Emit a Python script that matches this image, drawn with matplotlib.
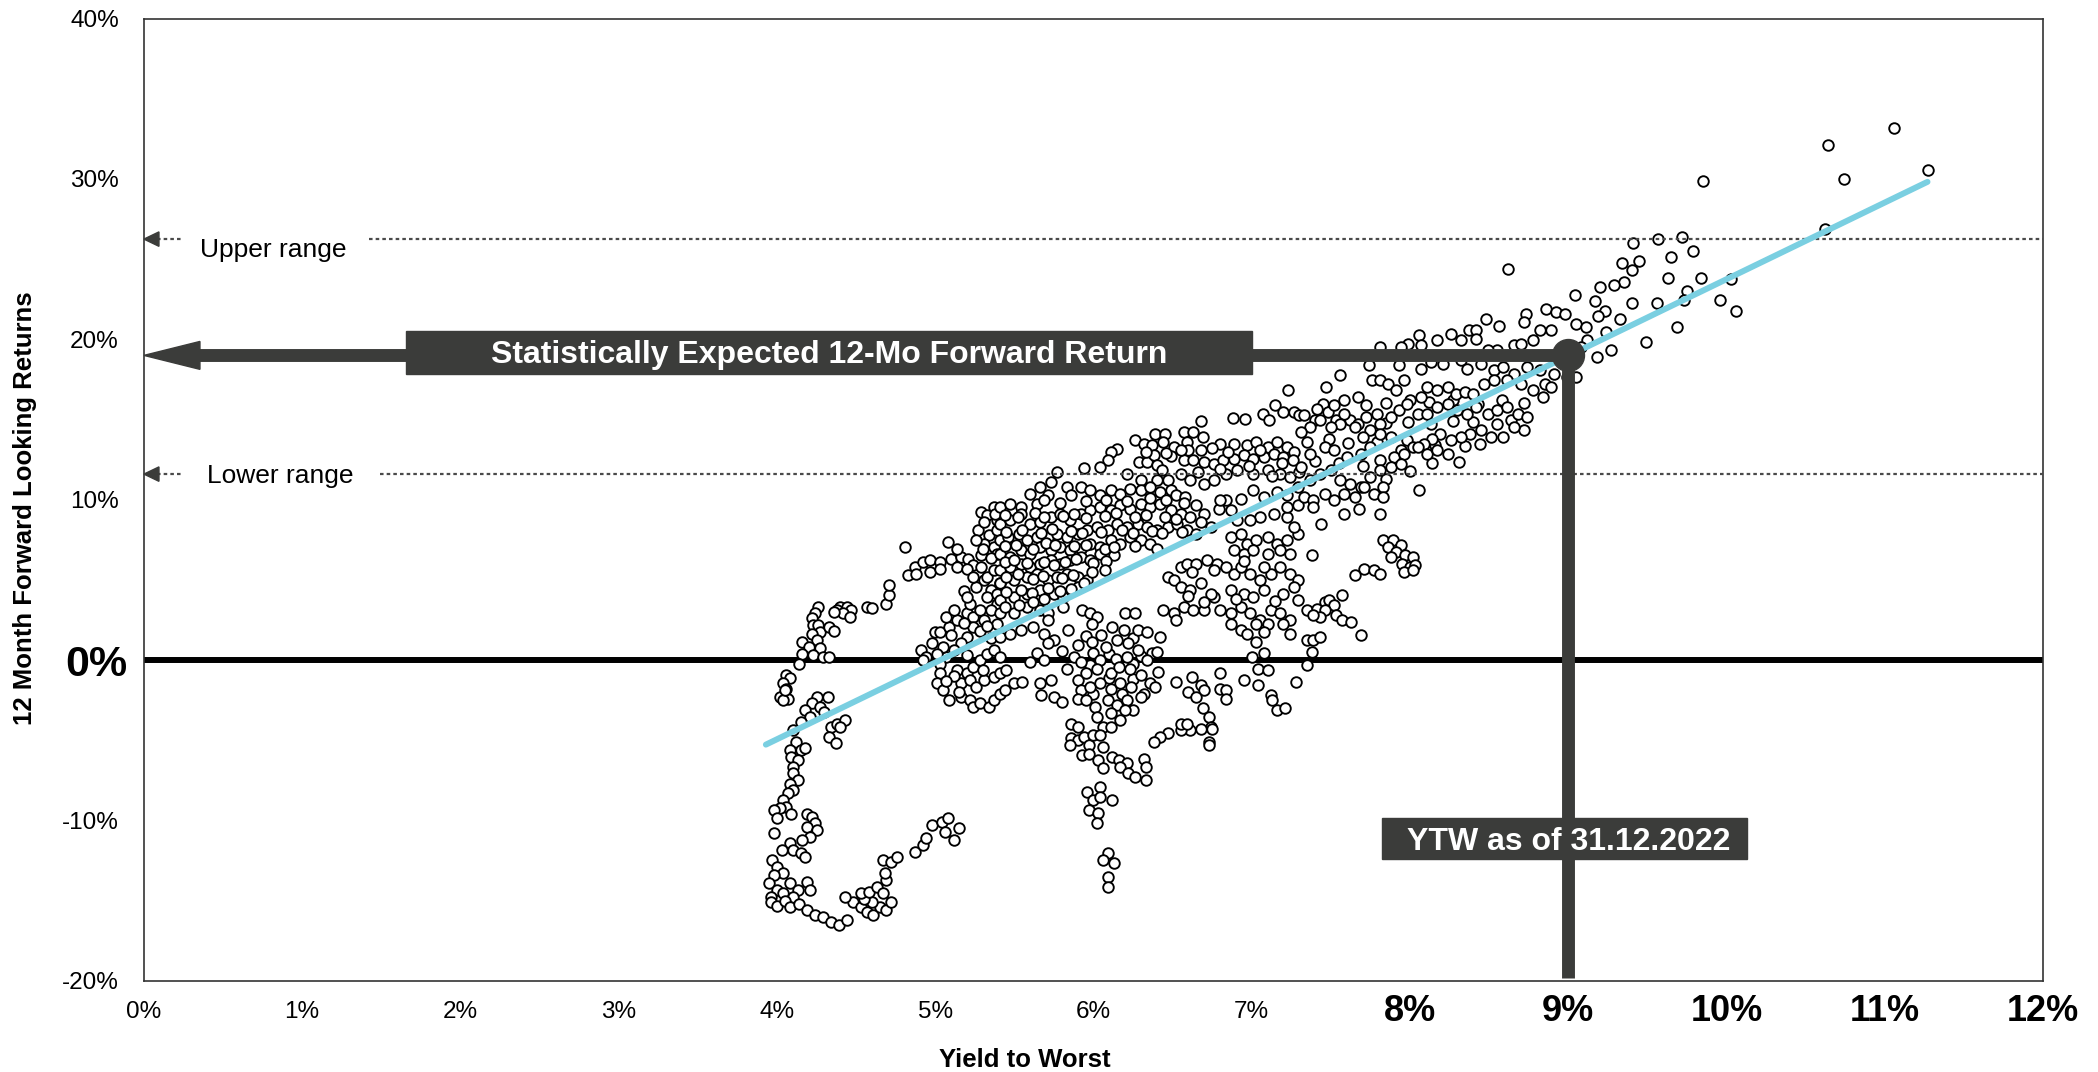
import matplotlib
matplotlib.use("Agg")
import matplotlib.pyplot as plt
from matplotlib.patches import Polygon, Rectangle

plt.rcParams['font.family'] = ['Liberation Sans', 'DejaVu Sans']

# ---------------------------------------------------------------
# Observations: (yield to worst %, 12-month forward return %)
# ---------------------------------------------------------------
hook_top = [
    (4.26, 3.32), (4.24, 2.91), (4.22, 2.60), (4.23, 2.18), (4.26, 2.18), (4.27, 1.76), (4.33, 2.08),
    (4.36, 1.83), (4.22, 1.66), (4.25, 1.25), (4.16, 1.14), (4.20, 0.83), (4.27, 0.73), (4.16, 0.41),
    (4.23, 0.31), (4.29, 0.21), (4.33, 0.21), (4.14, -0.21), (4.40, 3.32), (4.44, 3.32), (4.38, 3.11),
    (4.47, 3.11), (4.42, 2.91), (4.46, 2.70), (4.36, 3.01), (4.57, 3.32), (4.60, 3.28), (4.69, 3.53),
    (4.06, -0.94), (4.08, -1.14), (4.04, -1.45), (4.06, -1.77), (4.02, -2.29), (4.07, -2.39), (4.04, -2.49),
    (4.05, -1.87), (4.25, -2.29), (4.32, -2.29), (4.22, -2.70), (4.27, -2.91), (4.18, -3.12), (4.21, -3.53),
    (4.15, -3.84), (4.30, -3.22), (4.34, -4.16), (4.38, -3.95), (4.43, -3.74), (4.40, -4.16), (4.33, -4.78),
    (4.37, -5.19), (4.10, -4.36),
]

hook_strand = [
    (4.12, -5.09), (4.08, -5.61), (4.15, -5.61), (4.18, -5.50), (4.09, -6.02), (4.13, -6.23), (4.10, -6.65),
    (4.10, -7.06), (4.13, -7.48), (4.08, -7.69), (4.10, -8.10), (4.07, -8.31), (4.04, -8.72), (4.06, -9.14),
    (4.02, -9.24), (3.98, -9.35), (4.00, -9.87), (4.09, -9.56), (4.19, -9.56), (4.22, -9.76), (4.24, -10.18),
    (4.19, -10.39), (4.25, -10.59), (4.21, -11.01), (4.16, -11.22), (4.08, -11.42), (4.10, -11.84),
    (4.15, -12.05), (4.18, -12.26), (4.03, -11.84), (3.98, -10.80), (3.97, -12.46), (4.00, -12.88),
    (4.04, -13.29), (3.98, -13.40), (3.95, -13.92), (4.00, -14.33), (4.08, -13.92), (4.13, -14.33),
    (4.19, -13.81), (4.21, -14.33), (4.04, -14.54), (3.96, -14.75), (4.10, -14.75),
    (3.96, -15.1), (4.00, -15.3), (4.05, -15.0), (4.08, -15.4), (4.14, -15.2), (4.19, -15.6), (4.24, -15.9),
    (4.29, -16.0), (4.34, -16.3), (4.39, -16.5), (4.44, -16.2), (4.48, -15.1), (4.53, -15.4), (4.57, -15.7),
    (4.61, -15.9), (4.65, -15.4), (4.69, -15.6), (4.72, -15.1), (4.60, -15.1), (4.55, -14.9),
    (4.43, -14.75), (4.53, -14.54), (4.58, -14.44), (4.63, -14.12), (4.67, -14.54), (4.69, -13.71),
    (4.68, -13.29), (4.67, -12.46), (4.72, -12.57), (4.76, -12.26), (4.87, -11.94), (4.92, -11.53),
    (4.94, -11.11), (4.98, -10.28), (5.04, -10.07), (5.08, -9.87), (5.06, -10.70), (5.12, -11.22),
    (5.15, -10.49),
]

core_left = [
    (4.91, 0.62), (4.94, 0.21), (4.92, 0.00), (4.98, 1.04), (5.00, 1.76), (5.03, 1.76), (5.09, 2.08),
    (5.14, 2.49), (5.07, 2.70), (5.12, 3.11), (5.20, 2.91), (5.24, 2.70), (5.28, 3.11), (5.22, 3.53),
    (5.39, 3.53), (5.35, 3.11), (5.31, 2.49), (5.24, 2.08), (5.20, 1.45), (5.16, 1.04), (5.12, 0.62),
    (5.07, 0.21), (5.03, -0.21), (5.05, 0.83), (5.01, 0.41), (5.03, -0.83), (5.01, -1.45), (5.05, -1.87),
    (5.09, -2.49), (5.16, -2.29), (5.22, -2.49), (5.24, -2.91), (5.28, -2.70), (5.34, -2.91), (5.37, -2.49),
    (5.41, -2.08), (5.14, -0.62), (5.20, -0.83), (5.24, -0.42), (5.28, 0.00), (5.33, 0.41), (5.37, 0.62),
    (5.41, 0.21), (5.16, -1.45), (5.22, -1.25), (5.26, -1.66), (5.31, -1.25), (5.37, -1.04), (5.39, 2.28),
    (5.31, 4.98), (5.41, 4.78), (5.18, 4.30),
    (4.71, 4.05), (4.71, 4.67), (4.81, 7.06), (4.83, 5.30), (4.87, 5.81), (4.92, 6.13), (4.97, 6.23),
    (5.03, 6.13), (5.10, 6.33), (5.16, 6.44), (5.21, 6.33), (5.24, 5.92), (5.29, 6.54), (5.14, 5.81),
    (5.08, 7.37), (5.14, 6.96), (4.88, 5.40), (4.97, 5.50), (5.03, 5.71), (5.20, 5.71), (5.29, 9.24),
    (5.33, 9.03), (5.37, 9.55), (5.27, 8.10), (5.34, 7.79), (5.39, 8.10), (5.39, 8.72), (5.31, 7.27),
    (5.37, 7.06), (5.39, 6.65), (5.33, 5.19), (5.26, 4.57), (5.35, 4.36), (5.33, 3.95), (5.39, 4.15),
    (5.20, 3.95), (5.26, 7.50), (5.35, 6.40), (5.29, 5.80), (5.37, 5.60), (5.24, 5.20), (5.31, 8.60),
    (5.38, 9.10), (5.30, 6.90),
    (5.10, 1.60), (5.18, 2.30), (5.28, 1.80), (5.33, 2.10), (5.12, -1.00), (5.20, 0.30), (5.30, -0.60),
    (5.35, 1.40), (5.07, -1.30), (5.15, -2.00),
]

core_upper = [
    (7.23, 16.82), (7.15, 15.89), (7.07, 15.37), (7.11, 14.95), (7.20, 15.47), (7.27, 15.47), (7.30, 15.26),
    (6.88, 15.12), (6.96, 15.06), (6.68, 14.91), (6.57, 14.23), (6.63, 14.23), (6.69, 13.91), (6.39, 14.12),
    (6.45, 14.12), (6.26, 13.71), (6.32, 13.50), (6.37, 13.40), (6.44, 13.60), (6.51, 13.29), (6.59, 13.60),
    (6.60, 13.08), (6.68, 13.08), (6.80, 13.50), (6.89, 13.50), (6.97, 13.40), (7.03, 13.60), (7.10, 13.29),
    (7.16, 13.60), (7.22, 13.29), (7.27, 12.98), (6.15, 13.19), (6.11, 12.98), (6.09, 12.46), (6.04, 12.04),
    (5.94, 12.00), (5.77, 11.73), (6.29, 12.36), (6.34, 12.36), (6.38, 12.77), (6.40, 12.15), (6.43, 11.84),
    (6.49, 12.71), (6.57, 12.46), (6.63, 12.46), (6.70, 12.36), (6.76, 12.25), (6.82, 12.46), (6.89, 12.56),
    (6.95, 12.77), (7.01, 12.56), (7.08, 12.67), (7.14, 12.88), (7.20, 12.67), (7.26, 12.46), (6.21, 11.63),
    (6.30, 11.21), (6.40, 11.21), (6.47, 11.21), (6.55, 11.63), (6.61, 11.21), (6.70, 11.01), (6.76, 11.21),
    (6.84, 11.63), (6.91, 11.84), (7.01, 11.63), (7.10, 11.84), (7.18, 11.63), (7.24, 11.42), (7.30, 11.73),
    (5.41, 9.55), (5.47, 9.76), (5.54, 9.55), (5.60, 10.38), (5.66, 10.80), (5.71, 10.28), (5.64, 9.76),
    (5.73, 11.11), (5.83, 10.80), (5.86, 10.28), (5.92, 10.80), (5.98, 10.59), (6.04, 10.28), (6.11, 10.59),
    (6.17, 10.38), (6.23, 10.69), (6.30, 10.59), (6.36, 10.80), (6.42, 10.49), (6.49, 10.59), (6.52, 10.28),
    (6.58, 10.18), (6.65, 9.66), (6.70, 9.14), (6.79, 9.45), (6.84, 9.97), (6.93, 10.07), (7.01, 10.59),
    (7.08, 10.18), (7.16, 10.49), (7.22, 10.28), (7.29, 10.80),
    (5.41, 8.51), (5.47, 8.72), (5.54, 9.14), (5.60, 8.51), (5.66, 8.62), (5.73, 8.93), (5.79, 9.14),
    (5.85, 8.72), (5.92, 9.14), (5.98, 9.35), (6.04, 9.55), (6.11, 9.35), (6.17, 9.66), (6.23, 9.45),
    (6.30, 9.76), (6.36, 9.55), (6.42, 9.76), (6.49, 9.35), (6.55, 9.14), (6.61, 8.93), (6.68, 8.62),
    (6.74, 8.31),
    (5.41, 7.47), (5.46, 7.68), (5.53, 7.89), (5.58, 7.47), (5.64, 7.68), (5.71, 7.68), (5.77, 7.89),
    (5.83, 7.68), (5.90, 7.89), (5.96, 8.10), (6.02, 8.31), (6.09, 8.10), (6.15, 8.51), (6.21, 8.31),
    (6.28, 8.51), (6.34, 8.31), (6.40, 8.10), (6.47, 8.31), (6.53, 8.51), (6.59, 8.10), (6.65, 7.89),
    (5.41, 6.65), (5.47, 6.44), (5.54, 6.85), (5.60, 6.65), (5.66, 7.06), (5.73, 6.85), (5.79, 7.06),
    (5.85, 6.85), (5.92, 6.96), (5.98, 7.27), (6.04, 7.06), (6.11, 7.47), (6.17, 7.27), (6.23, 7.68),
    (6.30, 7.47), (6.36, 7.27),
    (5.41, 5.61), (5.47, 5.81), (5.54, 6.02), (5.60, 5.81), (5.66, 6.02), (5.73, 6.23), (5.79, 6.02),
    (5.85, 6.23), (5.92, 6.44), (5.98, 6.23), (6.04, 6.65), (6.13, 6.54),
    (5.41, 4.78), (5.50, 4.98), (5.58, 5.19), (5.64, 5.40), (5.71, 4.98), (5.77, 5.19), (5.83, 5.40),
    (5.90, 5.19), (5.96, 4.98), (5.41, 3.74), (5.50, 3.95), (5.58, 4.15), (5.66, 4.36), (5.75, 4.15),
    (5.81, 3.95), (5.90, 4.57), (5.94, 4.78), (5.41, 2.91), (5.50, 2.91), (5.58, 3.32), (5.66, 3.12),
    (5.71, 2.91), (5.81, 3.32), (5.71, 2.49), (5.93, 3.12), (5.98, 2.91), (6.02, 2.70), (6.20, 2.91),
    (6.26, 2.91),
    (6.47, 5.19), (6.51, 4.98), (6.55, 5.81), (6.59, 6.02), (6.65, 6.02), (6.72, 6.23), (6.78, 6.02),
    (6.84, 5.81), (6.89, 5.40), (6.93, 5.81), (6.99, 5.40), (7.05, 4.98), (7.12, 5.40), (7.18, 5.81),
    (7.24, 5.40), (7.29, 4.98), (6.44, 3.12), (6.51, 2.91), (6.57, 3.32), (6.63, 3.12), (6.70, 3.12),
    (6.76, 3.95), (6.80, 3.12), (6.87, 2.91), (6.93, 3.32), (6.99, 2.91), (7.05, 2.49), (7.12, 3.12),
    (7.18, 2.91), (7.24, 2.49), (7.29, 3.74), (6.55, 4.57), (6.61, 4.36), (6.68, 4.78), (6.74, 4.15),
    (6.87, 4.36), (6.95, 4.15), (7.01, 3.95), (7.08, 4.36), (7.20, 4.15), (7.27, 4.57),
    (6.87, 7.68), (6.93, 7.89), (6.97, 7.27), (7.03, 7.47), (7.10, 7.68), (7.16, 7.27), (7.22, 7.47),
    (7.29, 7.89), (6.89, 6.85), (6.95, 6.65), (7.01, 6.85), (7.10, 6.65), (7.18, 6.85), (7.24, 6.65),
    (7.27, 8.31), (7.22, 8.93), (7.14, 9.14), (7.05, 8.93), (6.99, 8.72), (6.91, 8.72), (6.87, 9.35),
    (6.80, 9.97), (7.22, 9.55), (7.29, 9.66),
]

# denser packing inside the main band
core_fill = [
    (5.44, 9.05), (5.52, 8.95), (5.63, 9.20), (5.69, 8.90), (5.81, 9.00), (5.88, 9.10), (5.95, 8.85),
    (6.07, 9.00), (6.14, 9.15), (6.26, 8.95), (6.33, 9.05), (6.45, 8.90), (6.52, 8.80),
    (5.45, 8.00), (5.55, 8.10), (5.67, 7.95), (5.74, 8.15), (5.86, 8.05), (5.93, 7.90), (6.05, 8.00),
    (6.18, 8.10), (6.25, 7.95), (6.37, 8.05), (6.43, 7.90), (6.56, 8.00),
    (5.44, 7.10), (5.51, 7.20), (5.62, 6.95), (5.70, 7.30), (5.76, 7.15), (5.88, 7.10), (5.95, 7.20),
    (6.07, 6.90), (6.13, 7.05), (6.26, 7.10), (6.40, 6.95),
    (5.44, 6.10), (5.50, 6.25), (5.58, 6.05), (5.69, 6.15), (5.75, 5.95), (5.82, 6.10), (5.89, 6.30),
    (6.00, 6.05), (6.08, 6.20),
    (5.45, 5.20), (5.52, 5.35), (5.62, 5.05), (5.68, 5.25), (5.80, 5.10), (5.87, 5.30), (5.99, 5.50),
    (6.07, 5.60), (5.45, 4.25), (5.54, 4.40), (5.61, 4.20), (5.71, 4.50), (5.79, 4.30), (5.86, 4.45),
    (5.44, 3.30), (5.53, 3.45), (5.62, 3.60), (5.69, 3.80),
    (5.69, 10.00), (5.79, 9.80), (5.95, 9.90), (6.08, 10.00), (6.21, 9.95), (6.36, 10.10), (6.46, 10.00),
    (6.57, 9.80),
    (6.33, 13.00), (6.46, 12.90), (6.55, 13.10), (6.75, 13.20), (6.85, 12.95), (7.05, 13.10), (7.19, 12.30),
    (6.66, 11.70), (6.80, 11.90), (6.98, 12.10), (7.13, 11.50),
    (7.45, 16.00), (7.58, 16.20), (7.72, 15.90), (7.85, 16.05), (8.12, 16.10), (8.27, 16.25), (8.43, 16.00),
    (8.58, 16.20), (8.72, 16.05), (8.84, 16.40),
    (7.40, 15.00), (7.53, 15.00), (7.62, 14.95), (7.85, 14.80), (7.99, 14.85), (8.13, 14.70), (8.27, 14.90),
    (8.40, 14.85), (8.55, 14.75), (8.64, 14.95),
    (7.35, 13.60), (7.49, 13.80), (7.61, 13.55), (7.79, 13.60), (7.98, 13.75), (8.16, 13.40), (8.35, 13.35),
    (8.44, 13.50), (7.40, 12.40), (7.55, 12.30), (7.70, 12.10), (7.85, 11.30), (8.00, 11.80), (8.14, 12.30),
    (6.62, 5.50), (6.76, 5.60), (6.95, 6.20), (7.08, 5.80), (6.70, 3.60), (6.90, 3.80), (7.15, 3.70),
    (6.60, 4.00),
    (5.95, 1.50), (6.05, 1.60), (6.25, 1.40), (5.80, 0.60), (6.10, 0.40), (6.30, 0.25), (5.98, -0.30),
    (6.25, -0.25), (6.10, -1.10), (6.25, -1.20), (6.00, -2.10), (6.18, -2.10),
]

core_lower = [
    (5.84, 1.87), (5.99, 2.24), (6.12, 2.08), (6.19, 1.87), (6.28, 1.87), (6.34, 1.77), (6.42, 1.45),
    (6.52, 2.49), (5.41, 1.45), (5.47, 1.66), (5.54, 1.87), (5.62, 2.08), (5.69, 1.66), (5.75, 1.25),
    (5.71, 1.04), (5.64, 0.42), (5.69, 0.00), (5.90, 0.93), (5.99, 1.14), (6.08, 0.83), (6.15, 1.25),
    (6.22, 1.04), (6.28, 0.62), (6.37, 0.42), (6.40, 0.52), (5.41, -0.83), (5.45, -0.62), (5.50, -1.45),
    (5.44, -1.87), (5.55, -1.35), (5.60, -0.10), (5.66, -1.45), (5.73, -1.25), (5.67, -2.18), (5.75, -2.28),
    (5.80, -2.60), (5.88, 0.21), (5.92, -0.10), (6.00, 0.42), (6.04, 0.00), (6.14, 0.10), (6.21, 0.21),
    (6.34, 0.00), (6.41, -0.73), (5.83, -0.52), (5.90, -1.25), (5.95, -0.83), (6.02, -0.52), (6.11, -0.83),
    (6.16, -0.42), (6.23, -0.52), (6.30, -0.93), (6.36, -1.45), (5.92, -1.87), (5.98, -1.66), (6.04, -1.45),
    (6.11, -1.77), (6.17, -1.45), (6.24, -1.66), (6.32, -2.08), (6.39, -1.66), (5.90, -2.39), (5.95, -2.49),
    (6.01, -2.91), (6.09, -2.49), (6.15, -2.80), (6.21, -2.49), (6.25, -3.12), (6.30, -2.28), (6.02, -3.53),
    (6.11, -3.32), (6.17, -3.74), (6.20, -3.12), (6.06, -4.15), (6.11, -4.15), (5.86, -3.95), (5.90, -4.15),
    (5.86, -4.88), (5.90, -4.98), (5.94, -4.78), (5.97, -5.30), (6.00, -4.67), (6.04, -4.67), (6.06, -5.40),
    (5.85, -5.30), (5.93, -5.92), (5.97, -5.82), (6.03, -6.23), (6.06, -6.75), (6.12, -6.02), (6.16, -6.23),
    (6.21, -6.44), (6.17, -6.65), (6.22, -7.06), (6.26, -7.27), (6.32, -6.13), (6.33, -6.65), (6.33, -7.48),
    (5.96, -8.20), (6.04, -7.89), (6.00, -8.72), (6.04, -8.52), (6.12, -8.72), (5.97, -9.35), (6.03, -9.55),
    (6.02, -10.18), (6.09, -12.05), (6.13, -12.67), (6.06, -12.46), (6.09, -13.50), (6.09, -14.12),
    (6.52, -1.35), (6.62, -1.04), (6.60, -1.97), (6.68, -1.56), (6.70, -1.87), (6.80, -0.83), (6.80, -1.77),
    (6.84, -1.87), (6.84, -2.39), (6.65, -2.28), (6.69, -3.01), (6.73, -3.53), (6.74, -4.15), (6.75, -4.26),
    (6.68, -4.26), (6.61, -4.36), (6.55, -4.36), (6.55, -3.95), (6.59, -3.95), (6.47, -4.57), (6.42, -4.78),
    (6.38, -5.09), (6.73, -5.09), (6.73, -5.30), (6.87, 2.28), (6.93, 1.87), (6.97, 1.66), (7.03, 2.28),
    (7.10, 2.28), (7.08, 1.77), (7.20, 2.28), (7.24, 1.66), (7.03, 1.14), (7.08, 0.42), (7.00, 0.21),
    (7.04, -0.52), (7.10, -0.62), (6.95, -1.25), (7.04, -1.56), (7.12, -2.18), (7.13, -2.49), (7.16, -3.12),
    (7.21, -3.01), (7.28, -1.35),
]

core_right = [
    (9.04, 22.74), (8.86, 21.91), (8.92, 21.70), (8.98, 21.60), (9.05, 20.98), (8.73, 21.60), (8.72, 21.08),
    (8.48, 21.29), (8.56, 20.81), (8.37, 20.56), (8.42, 20.56), (8.26, 20.35), (8.17, 19.94), (8.06, 20.25),
    (8.07, 19.63), (7.99, 19.73), (7.94, 19.52), (7.81, 19.52), (8.32, 19.94), (8.42, 20.04), (8.82, 20.56),
    (8.89, 20.56), (8.78, 19.94), (8.66, 19.63), (8.70, 19.73), (8.55, 19.31), (8.49, 19.31), (8.62, 24.36),
    (7.74, 18.38), (7.56, 17.76), (7.93, 18.38), (8.07, 18.17), (8.13, 18.59), (8.21, 18.48), (8.32, 18.69),
    (8.36, 18.17), (8.45, 18.48), (8.53, 18.07), (8.59, 18.28), (8.66, 17.86), (8.74, 18.28), (8.82, 18.07),
    (8.91, 17.86), (8.99, 17.65), (9.05, 17.65), (7.47, 17.03), (7.67, 16.41), (7.76, 17.44), (7.81, 17.44),
    (7.86, 17.24), (7.91, 16.82), (7.96, 17.44), (8.00, 16.20), (8.07, 16.41), (8.11, 17.03), (8.17, 16.82),
    (8.24, 17.03), (8.29, 16.61), (8.35, 16.72), (8.40, 16.61), (8.47, 17.24), (8.53, 17.44), (8.61, 17.44),
    (8.70, 17.24), (8.78, 16.82), (8.85, 17.24), (8.89, 17.03),
    (7.33, 15.26), (7.41, 15.68), (7.48, 15.47), (7.52, 15.89), (7.58, 15.37), (7.67, 14.75), (7.72, 15.16),
    (7.79, 15.37), (7.81, 14.75), (7.88, 15.16), (7.93, 15.58), (7.98, 15.99), (8.05, 15.37), (8.11, 15.37),
    (8.17, 15.78), (8.24, 15.99), (8.30, 15.58), (8.36, 15.37), (8.42, 15.78), (8.49, 15.37), (8.55, 15.58),
    (8.61, 15.78), (8.68, 15.37), (8.74, 15.16), (8.72, 14.33), (8.66, 14.54), (8.59, 13.91), (8.51, 13.91),
    (8.45, 14.33), (8.38, 14.12), (8.32, 13.91), (8.26, 13.71), (8.19, 14.12), (8.14, 13.81), (8.09, 13.50),
    (8.02, 13.29), (7.94, 13.08), (7.88, 13.91), (7.81, 14.12), (7.75, 14.33), (7.70, 13.91), (7.65, 14.54),
    (7.56, 14.75), (7.50, 14.54), (7.43, 14.95), (7.37, 14.54), (7.31, 14.23),
    (7.37, 12.88), (7.46, 13.29), (7.52, 13.08), (7.60, 12.67), (7.69, 12.88), (7.75, 13.29), (7.81, 12.46),
    (7.90, 12.67), (7.96, 12.88), (8.05, 13.29), (8.11, 12.88), (8.17, 13.08), (8.24, 12.88), (8.31, 12.36),
    (7.31, 12.04), (7.37, 11.21), (7.43, 11.63), (7.50, 11.84), (7.56, 11.21), (7.62, 11.01), (7.69, 10.80),
    (7.75, 11.42), (7.81, 11.84), (7.88, 12.04), (7.94, 12.25), (7.33, 10.18), (7.39, 9.97), (7.46, 10.38),
    (7.52, 9.97), (7.58, 10.38), (7.65, 10.18), (7.71, 10.80), (7.77, 10.38), (7.83, 10.80), (7.39, 9.55),
    (7.58, 9.14), (7.68, 9.45), (7.81, 9.14), (7.83, 10.18), (8.06, 10.59), (7.44, 8.51),
    (7.38, 6.54), (7.83, 7.48), (7.89, 7.48), (7.94, 7.16), (7.86, 7.06), (7.91, 6.75), (7.88, 6.44),
    (7.97, 6.54), (8.02, 6.44), (7.95, 6.02), (8.00, 5.81), (8.03, 5.92), (7.96, 5.50), (8.02, 5.61),
    (7.71, 5.71), (7.77, 5.61), (7.81, 5.40), (7.65, 5.30), (7.35, 3.11), (7.41, 3.22), (7.46, 3.63),
    (7.49, 3.74), (7.52, 3.42), (7.57, 4.05), (7.46, 3.11), (7.43, 2.70), (7.39, 2.80), (7.53, 2.80),
    (7.57, 2.49), (7.63, 2.39), (7.69, 1.56), (7.35, 1.24), (7.39, 1.24), (7.43, 1.45), (7.38, 0.52),
    (7.35, -0.31),
]

tail = [
    (11.06, 33.19), (10.64, 32.09), (10.74, 29.97), (11.27, 30.53), (9.85, 29.86), (10.62, 26.90),
    (9.41, 26.02), (9.57, 26.23), (9.72, 26.38), (9.79, 25.48), (9.65, 25.13), (9.45, 24.88), (9.34, 24.78),
    (9.40, 24.34), (9.63, 23.80), (9.84, 23.80), (10.03, 23.74), (9.35, 23.57), (9.29, 23.39), (9.20, 23.24),
    (9.17, 22.41), (9.40, 22.28), (9.56, 22.24), (9.75, 22.99), (9.73, 22.43), (9.96, 22.43), (10.06, 21.77),
    (9.23, 21.77), (9.19, 21.43), (9.11, 20.77), (9.33, 21.27), (9.24, 20.43), (9.69, 20.77), (9.49, 19.85),
    (9.27, 19.34), (9.18, 18.90), (9.12, 19.98), (9.08, 19.52),
]

# Fitted relationship and current reading
trend_slope = 4.78
trend_intercept = -24.05
trend_x = [3.93, 11.27]
ytw_current = 9.0
expected_return = 19.0
upper_range = 26.25
lower_range = 11.6

x_ticks = list(range(0, 13))
x_tick_labels = [f"{v}%" for v in x_ticks]
y_ticks = [-20, -10, 0, 10, 20, 30, 40]
y_tick_labels = [f"{v}%" for v in y_ticks]

DARK = '#3b3c3a'
BLUE = '#7acfe1'
DOT_GREY = '#4a4a4a'

# ---------------------------------------------------------------
fig = plt.figure(figsize=(20.98, 10.72), dpi=100)
ax = fig.add_axes([0.0686, 0.0849, 0.9052, 0.8978])
ax.set_xlim(0, 12)
ax.set_ylim(-20, 40)

for s in ax.spines.values():
    s.set_color('#333333')
    s.set_linewidth(1.2)

points = hook_top + hook_strand + core_left + core_upper + core_fill + core_lower + core_right + tail
xs = [p[0] for p in points]
ys = [p[1] for p in points]

ax.axhline(0, color='black', lw=4.3, zorder=2)
ax.scatter(xs, ys, s=58, facecolors='white', edgecolors='black', linewidths=1.35, zorder=3)

# range guides
for level, line_start, label, text_x, text_dy in [
        (upper_range, 1.42, 'Upper range', 0.354, -1.12),
        (lower_range, 1.49, 'Lower range', 0.40, -0.55)]:
    ax.plot([line_start, 12], [level, level], color=DOT_GREY, lw=1.6,
            linestyle=(0, (1.6, 1.4)), zorder=4)
    ax.plot([0.08, 0.25], [level, level], color=DOT_GREY, lw=1.6,
            linestyle=(0, (1.6, 1.4)), zorder=4)
    ax.add_patch(Polygon([(0.0, level), (0.095, level + 0.45), (0.095, level - 0.45)],
                         closed=True, color=DARK, zorder=5, clip_on=False))
    ax.text(text_x, level + text_dy, label, fontsize=19, color='black',
            va='baseline', ha='left', zorder=5)

# regression line
trend_y = [trend_intercept + trend_slope * v for v in trend_x]
ax.plot(trend_x, trend_y, color=BLUE, lw=4.3, solid_capstyle='round', zorder=6)

# expected-return arrow and YTW marker
head_len = 0.354
head_half = 0.87
ax.plot([head_len - 0.02, ytw_current], [expected_return, expected_return],
        color=DARK, lw=9.3, solid_capstyle='butt', zorder=7)
ax.add_patch(Polygon([(0.0, expected_return), (head_len, expected_return + head_half),
                      (head_len, expected_return - head_half)],
                     closed=True, color=DARK, zorder=7, clip_on=False))
ax.plot([ytw_current, ytw_current], [-19.8, expected_return], color=DARK, lw=9.3,
        solid_capstyle='butt', zorder=7)
ax.plot([ytw_current], [expected_return], 'o', ms=23, color=DARK, zorder=8)

# label boxes
ax.add_patch(Rectangle((1.656, 17.82), 5.348, 2.68, color=DARK, zorder=8))
ax.text((1.656 + 7.004) / 2, 18.50, 'Statistically Expected 12-Mo Forward Return',
        color='white', fontsize=23, fontweight='bold', ha='center', va='baseline', zorder=9)
ax.add_patch(Rectangle((7.82, -12.40), 2.31, 2.56, color=DARK, zorder=8))
ax.text(ytw_current, -11.84, 'YTW as of 31.12.2022', color='white', fontsize=23,
        fontweight='bold', ha='center', va='baseline', zorder=9)

# axes ticks and labels
ax.tick_params(length=0)
ax.set_xticks(x_ticks)
ax.set_xticklabels(x_tick_labels)
ax.tick_params(axis='x', pad=22)
for v, lab in zip(x_ticks, ax.get_xticklabels()):
    lab.set_va('center')
    if v >= 8:
        lab.set_fontsize(26)
        lab.set_fontweight('bold')
    else:
        lab.set_fontsize(17.5)

ax.set_yticks(y_ticks)
ax.set_yticklabels(y_tick_labels)
ax.tick_params(axis='y', pad=18)
for v, lab in zip(y_ticks, ax.get_yticklabels()):
    if v == 0:
        lab.set_fontsize(31)
        lab.set_fontweight('bold')
        lab.set_x(0.0047)
    else:
        lab.set_fontsize(17.5)

ax.set_ylabel('12 Month Forward Looking Returns', fontsize=18.5, fontweight='bold', va='center')
ax.yaxis.set_label_coords(-0.0627, 0.491)
ax.set_xlabel('Yield to Worst', fontsize=18.5, fontweight='bold', va='center')
ax.xaxis.set_label_coords(0.464, -0.082)

fig.savefig('out.png', dpi=100, facecolor='white')
